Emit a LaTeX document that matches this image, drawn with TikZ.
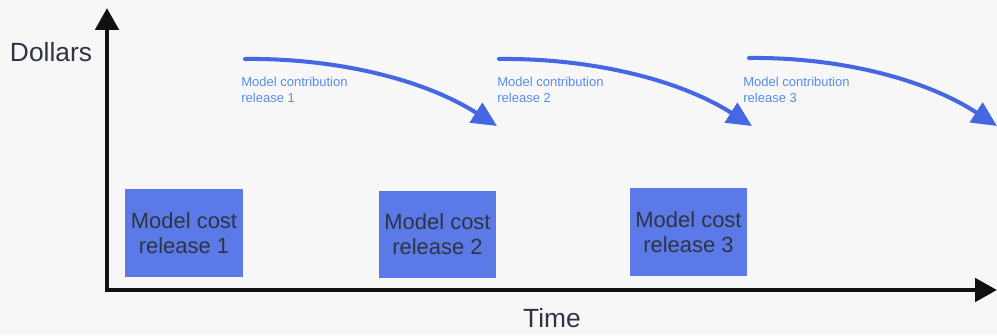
\documentclass[tikz,border=0pt]{standalone}
\usepackage{fontspec}
\setmainfont{Liberation Sans}
\usepackage{xcolor}
\usepackage{tikz}
\usetikzlibrary{arrows.meta}
\definecolor{paper}{HTML}{F7F7F8}
\definecolor{ink}{HTML}{111111}
\definecolor{boxblue}{HTML}{5B7AE8}
\definecolor{boxtext}{HTML}{2E3442}
\definecolor{flow}{HTML}{4568E2}
\definecolor{flowtext}{HTML}{5A8BEE}
\tikzset{
  axis/.style={draw=ink, line width=2.8pt, {Triangle[length=0.44cm,width=0.46cm]}-{Triangle[length=0.44cm,width=0.46cm]}},
  flowline/.style={draw=flow, line width=2.3pt, line cap=round, -{Triangle[length=0.5cm,width=0.46cm]}},
  costbox/.style={fill=boxblue, minimum width=2.36cm, minimum height=1.76cm, inner sep=0pt,
    text=boxtext, align=center, font=\fontsize{12.5}{14.2}\selectfont},
  flowlbl/.style={text=flowtext, anchor=north west, inner sep=0pt, align=left,
    font=\fontsize{7.4}{9.1}\selectfont},
  axlbl/.style={text=boxtext, font=\fontsize{15}{18}\selectfont}
}

\begin{document}
\begin{tikzpicture}[x=0.02cm, y=0.02cm]
  \fill[paper] (0,0) rectangle (997,335);
  \useasboundingbox (0,0) rectangle (997,335);

  % axes
  \coordinate (O) at (107,45);
  \coordinate (ytip) at (107,327);
  \coordinate (xtip) at (997,45);
  \draw[axis] (ytip) -- (O) -- (xtip);

  \node[axlbl] (dollars) at (51,283) {Dollars};
  \node[axlbl] (time) at (552,17) {Time};

  % cost of each release
  \node[costbox] (cost1) at (184,102) {Model cost\\release 1};
  \node[costbox] (cost2) at (437.5,100.5) {Model cost\\release 2};
  \node[costbox] (cost3) at (688.5,103) {Model cost\\release 3};

  % contribution of each release
  \coordinate (s1) at (245,276);
  \coordinate (e1) at (497,209);
  \coordinate (s2) at (499,276);
  \coordinate (e2) at (752,209);
  \coordinate (s3) at (749,277);
  \coordinate (e3) at (997,209);

  \draw[flowline] (s1) .. controls (330,277) and (420,258) .. (e1);
  \draw[flowline] (s2) .. controls (584,277) and (675,258) .. (e2);
  \draw[flowline] (s3) .. controls (834,278) and (922,258) .. (e3);

  \node[flowlbl] (gain1) at (241,258) {Model contribution\\release 1};
  \node[flowlbl] (gain2) at (497,258) {Model contribution\\release 2};
  \node[flowlbl] (gain3) at (743,258) {Model contribution\\release 3};
\end{tikzpicture}
\end{document}
